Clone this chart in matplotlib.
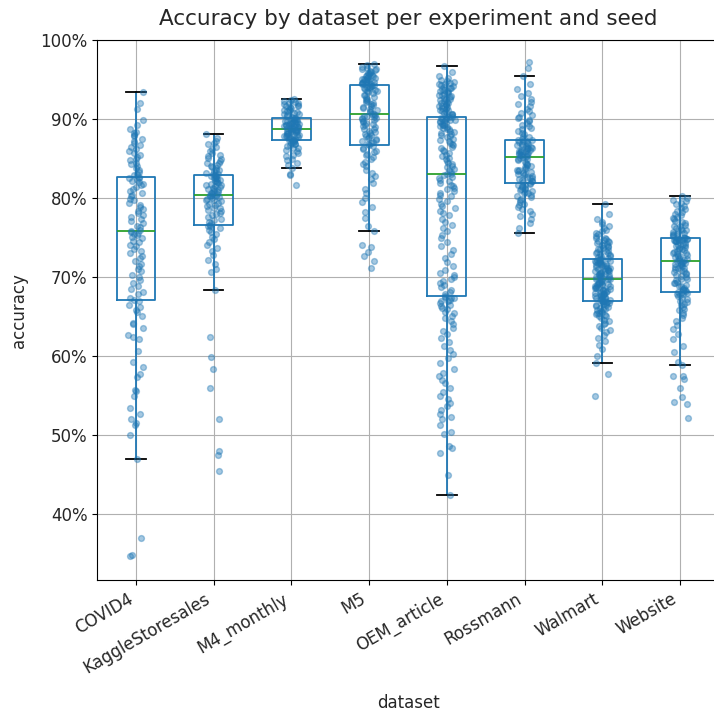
import numpy as np
import matplotlib
matplotlib.use("Agg")
import matplotlib.pyplot as plt
from matplotlib.ticker import PercentFormatter

# Accuracy (%) per dataset, one value per experiment/seed run
datasets = ["COVID4", "KaggleStoresales", "M4_monthly", "M5",
            "OEM_article", "Rossmann", "Walmart", "Website"]

covid4 = [
    34.7, 34.8, 37.0, 47.0, 50.0, 51.3, 51.5, 52.0, 52.7, 53.4, 54.9, 55.6, 55.7,
    57.3, 57.7, 58.6, 59.2, 60.6, 62.2, 62.4, 62.7, 63.5, 64.0, 64.2, 65.1, 65.6,
    65.8, 66.2, 66.5, 66.9, 67.1,
    67.4, 67.8, 68.1, 68.5, 68.9, 69.2, 69.6, 70.0, 70.3, 70.7, 71.0, 71.4, 71.7,
    72.0, 72.4, 72.7, 73.0, 73.3, 73.6, 73.9, 74.1, 74.4, 74.6, 74.9, 75.1, 75.3,
    75.5, 75.6, 75.7, 75.8,
    76.0, 76.3, 76.5, 76.8, 77.1, 77.3, 77.6, 77.9, 78.1, 78.4, 78.6, 78.9, 79.1,
    79.4, 79.7, 79.9, 80.2, 80.4, 80.7, 80.9, 81.2, 81.4, 81.6, 81.8, 82.0, 82.2,
    82.3, 82.5, 82.6, 82.7,
    82.9, 83.1, 83.3, 83.6, 83.8, 84.1, 84.3, 84.5, 84.8, 85.0, 85.2, 85.5, 85.7,
    86.0, 86.2, 86.5, 86.7, 87.0, 87.2, 87.5, 87.8, 88.0, 88.2, 88.4, 88.7, 89.2,
    89.9, 91.3, 92.0, 93.4,
]

kaggle_storesales = [
    45.4, 47.5, 47.9, 52.0, 56.0, 58.4, 59.9, 62.4, 68.4, 70.6, 71.0, 71.6, 72.2,
    72.8, 73.3, 73.7, 74.0, 74.4, 74.8, 75.1, 75.4, 75.7, 76.0, 76.2, 76.4, 76.5,
    76.6,
    76.8, 77.0, 77.2, 77.4, 77.6, 77.8, 78.0, 78.1, 78.3, 78.5, 78.7, 78.8, 79.0,
    79.1, 79.3, 79.4, 79.6, 79.7, 79.8, 79.9, 80.0, 80.1, 80.2, 80.3, 80.35, 80.4,
    80.5, 80.6, 80.7, 80.8, 80.9, 81.0, 81.1, 81.2, 81.3, 81.4, 81.5, 81.6, 81.7,
    81.8, 81.9, 82.0, 82.1, 82.2, 82.3, 82.4, 82.5, 82.6, 82.7, 82.75, 82.8, 82.9,
    83.0, 83.1, 83.2, 83.4, 83.5, 83.6, 83.8, 83.9, 84.1, 84.2, 84.4, 84.5, 84.7,
    84.9, 85.1, 85.3, 85.5, 85.7, 86.0, 86.2, 86.5, 86.8, 87.0, 87.2, 87.6, 88.1,
]

m4_monthly = [
    81.7, 82.9, 83.0, 83.8, 84.2, 84.5, 84.8, 85.0, 85.3, 85.5, 85.7, 85.9, 86.1,
    86.3, 86.4, 86.6, 86.7, 86.8, 86.9, 87.0, 87.1, 87.2, 87.3, 87.35, 87.4,
    87.45, 87.5, 87.6, 87.65, 87.7, 87.8, 87.85, 87.9, 88.0, 88.05, 88.1, 88.2,
    88.25, 88.3, 88.35, 88.4, 88.45, 88.5, 88.55, 88.6, 88.65, 88.7, 88.75, 88.8,
    88.85, 88.9, 88.95, 89.0, 89.05, 89.1, 89.15, 89.2, 89.25, 89.3, 89.35, 89.4,
    89.45, 89.5, 89.55, 89.6, 89.65, 89.7, 89.8, 89.85, 89.9, 89.95, 90.0, 90.1,
    90.2, 90.3, 90.4, 90.5, 90.6, 90.7, 90.8, 90.9, 91.0, 91.1, 91.2, 91.3, 91.4,
    91.5, 91.6, 91.7, 91.8, 91.9, 92.0, 92.1, 92.2, 92.3, 92.45, 92.6,
]

m5 = [
    71.1, 72.0, 72.6, 73.2, 73.8, 74.1, 75.8, 76.4, 77.5, 78.2, 78.9, 79.5, 80.0,
    80.6, 81.2, 81.9, 82.4, 82.8, 83.2, 83.6, 84.0, 84.3, 84.6, 84.9, 85.2, 85.4,
    85.6, 85.8, 86.0, 86.2, 86.4, 86.55, 86.7,
    86.8, 86.95, 87.1, 87.2, 87.35, 87.5, 87.6, 87.75, 87.9, 88.0, 88.15, 88.3,
    88.4, 88.55, 88.7, 88.8, 88.95, 89.1, 89.2, 89.35, 89.5, 89.6, 89.75, 89.9,
    90.0, 90.1, 90.2, 90.3, 90.4, 90.45, 90.5, 90.6,
    90.7, 90.85, 91.0, 91.1, 91.25, 91.4, 91.5, 91.65, 91.8, 91.9, 92.05, 92.2,
    92.3, 92.45, 92.6, 92.7, 92.85, 93.0, 93.1, 93.25, 93.4, 93.5, 93.6, 93.7,
    93.8, 93.9, 94.0, 94.05, 94.1, 94.15, 94.2, 94.3,
    94.4, 94.45, 94.5, 94.55, 94.6, 94.7, 94.75, 94.8, 94.85, 94.9, 95.0, 95.05,
    95.1, 95.2, 95.25, 95.3, 95.4, 95.5, 95.55, 95.6, 95.7, 95.8, 95.9, 96.0,
    96.1, 96.2, 96.3, 96.4, 96.5, 96.6, 96.8, 97.0,
]

oem_article = [
    42.4, 44.9, 47.7, 48.3, 48.6, 50.1, 50.4, 51.3, 52.0, 52.3, 52.6, 53.1, 53.6,
    54.0, 54.5, 54.9, 55.4, 56.0, 56.6, 57.0, 57.4, 57.9, 58.4, 59.1, 59.7, 60.2,
    60.8, 61.3, 61.8, 62.3, 62.8, 63.2, 63.6, 64.0, 64.4, 64.8, 65.1, 65.4, 65.6,
    65.9, 66.1, 66.3, 66.5, 66.7, 66.9, 67.0, 67.1, 67.3, 67.4, 67.5, 67.6,
    67.8, 68.1, 68.4, 68.7, 69.0, 69.2, 69.5, 69.8, 70.0, 70.2, 70.5, 70.9, 71.4,
    71.9, 72.4, 72.9, 73.4, 73.9, 74.4, 74.9, 75.3, 75.8, 76.2, 76.6, 77.0, 77.4,
    77.8, 78.1, 78.4, 78.7, 79.0, 79.3, 79.6, 79.9, 80.2, 80.4, 80.6, 80.9, 81.1,
    81.3, 81.5, 81.7, 81.9, 82.1, 82.3, 82.5, 82.7, 82.9, 83.0, 83.1,
    83.3, 83.5, 83.7, 83.9, 84.1, 84.3, 84.5, 84.7, 84.9, 85.1, 85.3, 85.5, 85.7,
    85.9, 86.1, 86.3, 86.5, 86.7, 86.8, 87.0, 87.2, 87.4, 87.5, 87.7, 87.8, 88.0,
    88.1, 88.3, 88.4, 88.5, 88.7, 88.8, 88.9, 89.0, 89.1, 89.2, 89.3, 89.4, 89.5,
    89.6, 89.7, 89.8, 89.85, 89.9, 90.0, 90.05, 90.1, 90.2, 90.25, 90.3,
    90.4, 90.5, 90.6, 90.7, 90.8, 90.9, 91.0, 91.1, 91.2, 91.3, 91.4, 91.5, 91.6,
    91.7, 91.8, 91.9, 92.0, 92.1, 92.2, 92.3, 92.4, 92.5, 92.6, 92.7, 92.8, 92.9,
    93.0, 93.1, 93.2, 93.3, 93.4, 93.5, 93.6, 93.7, 93.8, 93.9, 94.0, 94.1, 94.2,
    94.3, 94.4, 94.5, 94.6, 94.7, 94.8, 95.0, 95.2, 95.5, 96.0, 96.7,
]

rossmann = [
    75.6, 76.2, 76.8, 77.3, 77.7, 78.0, 78.3, 78.6, 78.9, 79.1, 79.3, 79.5, 79.7,
    79.9, 80.1, 80.3, 80.4, 80.6, 80.7, 80.8, 80.9, 81.0, 81.1, 81.2, 81.3, 81.4,
    81.5, 81.6, 81.7, 81.8, 81.9,
    82.0, 82.1, 82.2, 82.3, 82.4, 82.5, 82.6, 82.7, 82.8, 82.9, 83.0, 83.1, 83.2,
    83.3, 83.4, 83.5, 83.6, 83.7, 83.8, 83.9, 84.0, 84.2, 84.3, 84.5, 84.6, 84.8,
    84.9, 85.0, 85.1, 85.2,
    85.3, 85.35, 85.4, 85.5, 85.55, 85.6, 85.7, 85.75, 85.8, 85.9, 85.95, 86.0,
    86.1, 86.15, 86.2, 86.3, 86.35, 86.4, 86.5, 86.6, 86.7, 86.75, 86.8, 86.9,
    87.0, 87.1, 87.2, 87.25, 87.3, 87.4,
    87.5, 87.7, 87.9, 88.1, 88.3, 88.5, 88.7, 88.9, 89.1, 89.3, 89.5, 89.7, 89.9,
    90.1, 90.3, 90.5, 90.8, 91.0, 91.3, 91.6, 91.9, 92.2, 92.5, 92.9, 93.3, 93.8,
    94.4, 95.4, 96.5, 97.2,
]

walmart = [
    54.9, 57.7, 59.1, 60.0, 60.9, 61.4, 61.9, 62.3, 62.7, 63.0, 63.3, 63.6, 63.8,
    64.0, 64.2, 64.4, 64.6, 64.8, 65.0, 65.1, 65.2, 65.3, 65.4, 65.5, 65.6, 65.7,
    65.8, 65.9, 66.0, 66.1, 66.2, 66.3, 66.4, 66.5, 66.6, 66.7, 66.75, 66.8, 66.85,
    66.9, 66.95,
    67.0, 67.1, 67.15, 67.2, 67.3, 67.35, 67.4, 67.5, 67.55, 67.6, 67.7, 67.75,
    67.8, 67.9, 67.95, 68.0, 68.1, 68.15, 68.2, 68.3, 68.35, 68.4, 68.5, 68.55,
    68.6, 68.7, 68.75, 68.8, 68.9, 68.95, 69.0, 69.1, 69.15, 69.2, 69.3, 69.35,
    69.4, 69.5, 69.6, 69.7,
    69.75, 69.8, 69.9, 69.95, 70.0, 70.1, 70.15, 70.2, 70.3, 70.35, 70.4, 70.5,
    70.55, 70.6, 70.7, 70.75, 70.8, 70.9, 70.95, 71.0, 71.1, 71.15, 71.2, 71.3,
    71.35, 71.4, 71.5, 71.55, 71.6, 71.7, 71.75, 71.8, 71.9, 71.95, 72.0, 72.05,
    72.1, 72.15, 72.2, 72.25,
    72.3, 72.4, 72.5, 72.6, 72.7, 72.8, 72.9, 73.0, 73.1, 73.2, 73.3, 73.4, 73.5,
    73.6, 73.7, 73.8, 73.9, 74.0, 74.1, 74.2, 74.3, 74.4, 74.5, 74.6, 74.7, 74.8,
    74.9, 75.0, 75.2, 75.4, 75.6, 75.8, 76.0, 76.2, 76.4, 76.7, 77.0, 77.4, 78.0,
    79.2,
]

website = [
    52.2, 53.9, 54.2, 54.8, 55.9, 57.1, 57.4, 57.5, 58.8, 59.2, 60.5, 61.2, 62.2,
    62.8, 63.4, 63.9, 64.4, 64.8, 65.2, 65.5, 65.8, 66.0, 66.2, 66.4, 66.6, 66.8,
    67.0, 67.2, 67.4, 67.6, 67.7, 67.8, 67.9, 68.0, 68.05, 68.1,
    68.2, 68.3, 68.4, 68.5, 68.6, 68.8, 68.9, 69.0, 69.2, 69.3, 69.4, 69.6, 69.7,
    69.8, 70.0, 70.1, 70.2, 70.4, 70.5, 70.6, 70.8, 70.9, 71.0, 71.1, 71.2, 71.3,
    71.4, 71.5, 71.6, 71.7, 71.75, 71.8, 71.9, 71.95, 72.0,
    72.1, 72.2, 72.3, 72.4, 72.5, 72.6, 72.7, 72.8, 72.9, 73.0, 73.1, 73.2, 73.3,
    73.4, 73.5, 73.6, 73.7, 73.8, 73.9, 74.0, 74.1, 74.2, 74.3, 74.4, 74.5, 74.55,
    74.6, 74.65, 74.7, 74.75, 74.8, 74.82, 74.85, 74.88, 74.9,
    75.0, 75.1, 75.2, 75.3, 75.4, 75.5, 75.6, 75.7, 75.8, 75.9, 76.0, 76.1, 76.2,
    76.4, 76.5, 76.6, 76.8, 77.0, 77.1, 77.3, 77.5, 77.6, 77.8, 78.0, 78.2, 78.4,
    78.6, 78.8, 79.0, 79.2, 79.4, 79.6, 79.8, 80.0, 80.2,
]

series = [covid4, kaggle_storesales, m4_monthly, m5,
          oem_article, rossmann, walmart, website]
y_ticks = [40, 50, 60, 70, 80, 90, 100]

plt.rcParams["font.size"] = 12
plt.rcParams["text.color"] = "#262626"
plt.rcParams["axes.labelcolor"] = "#262626"
plt.rcParams["xtick.labelcolor"] = "#262626"
plt.rcParams["ytick.labelcolor"] = "#262626"

fig = plt.figure(figsize=(7.14, 7.11), dpi=100)
ax = fig.add_axes([0.136, 0.184, 0.871, 0.7595])

positions = np.arange(1, len(datasets) + 1)
ax.boxplot(
    series, positions=positions, widths=0.5, whis=1.5, showfliers=False,
    boxprops=dict(color="C0", linewidth=1.3),
    whiskerprops=dict(color="C0", linewidth=1.3),
    medianprops=dict(color="C2", linewidth=1.3),
    capprops=dict(color="black", linewidth=1.3),
)

# jittered strip of the individual runs on top of each box
jitter_rng = np.random.default_rng(3)
for pos, vals in zip(positions, series):
    offs = jitter_rng.uniform(-0.1, 0.1, len(vals))
    ax.plot(pos + offs, vals, "o", color="C0", alpha=0.4,
            markersize=4.2, markeredgewidth=1.0, zorder=3)

ax.set_xlim(0.5, len(datasets) + 0.5)
ax.set_ylim(31.6, 100)
ax.set_yticks(y_ticks)
ax.yaxis.set_major_formatter(PercentFormatter(xmax=100, decimals=0))
ax.set_xticks(positions)
ax.set_xticklabels(datasets, rotation=30, ha="right")
ax.grid(True)
ax.set_axisbelow(True)
ax.spines["right"].set_visible(False)

ax.set_title("Accuracy by dataset per experiment and seed", fontsize=15.5, pad=11)
ax.set_xlabel("dataset", labelpad=12)
ax.set_ylabel("accuracy", labelpad=9)

fig.savefig("out.png", dpi=100)
